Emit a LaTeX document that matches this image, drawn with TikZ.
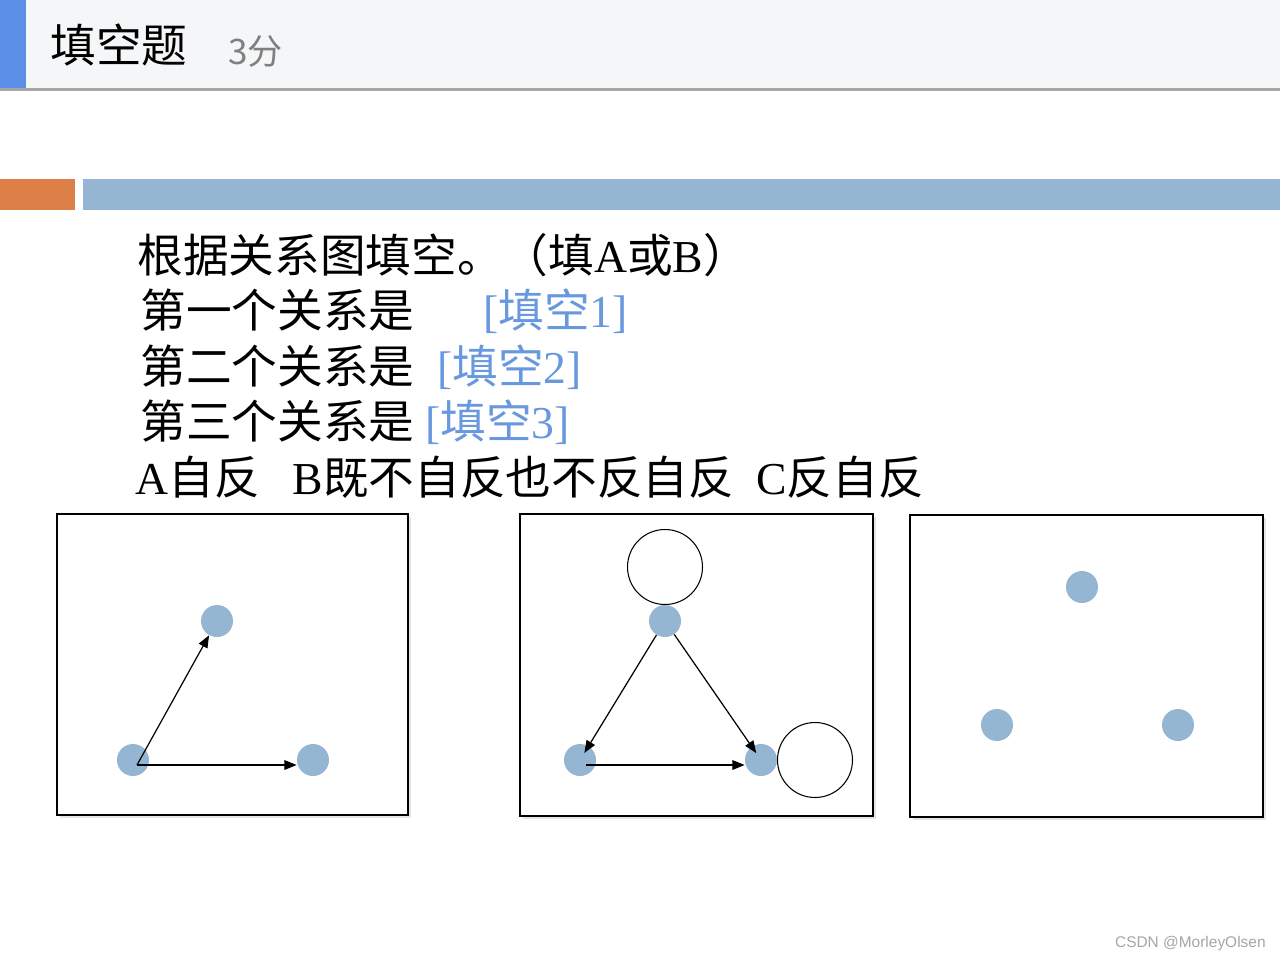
\documentclass[tikz,border=0pt]{standalone}
\usepackage{fontspec}
\setmainfont{Liberation Serif}
\newfontfamily\cjk{Noto Sans CJK SC}
\newfontfamily\uisans{Liberation Sans}
\usepackage{xcolor}
\usetikzlibrary{arrows.meta,positioning}

\definecolor{headbg}{RGB}{245,246,248}
\definecolor{headblue}{RGB}{91,143,232}
\definecolor{barorange}{RGB}{221,128,71}
\definecolor{barblue}{RGB}{148,182,210}
\definecolor{fillblue}{RGB}{104,152,222}

\begin{document}
\begin{tikzpicture}[>={Triangle[length=7pt,width=5.5pt]}, x=0.02cm, y=-0.02cm,
        vertex/.style={circle, fill=barblue, minimum size=0.64cm, inner sep=0pt},
        loopring/.style={circle, draw, line width=0.6pt, minimum size=1.5cm, inner sep=0pt},
        rel/.style={->, line width=0.7pt},
        panel/.style={draw, line width=0.7pt, fill=white},
        textline/.style={anchor=base west, inner sep=0pt, font=\fontsize{26pt}{30pt}\selectfont},
        fillin/.style={textline, text=fillblue}]
        \useasboundingbox (0,0) rectangle (1280,960);
        \fill[white] (0,0) rectangle (1280,960);

        % Header
        \fill[headbg] (0,0) rectangle (1280,88);
        \fill[gray!70] (0,88) rectangle (1280,91);
        \fill[headblue] (0,0) rectangle (26,88);
        \node[anchor=base west, inner sep=0pt, font=\cjk\fontsize{26pt}{30pt}\selectfont] (title) at (50,62) {填空题};
        \node[anchor=base west, inner sep=0pt, text=gray, font=\cjk\fontsize{20pt}{24pt}\selectfont] (score) at (228,64) {3分};

        % Bars
        \fill[barorange] (0,179) rectangle (75,210);
        \fill[barblue] (83,179) rectangle (1280,210);

        % Question text
        \node[textline] (q0) at (137,272) {{\cjk 根据关系图填空。（填}A{\cjk 或}B{\cjk ）}};
        \node[textline] (q1) at (140,327) {\cjk 第一个关系是};
        \node[fillin] (blank1) at (483,327) {[{\cjk 填空}1]};
        \node[textline] (q2) at (140,383) {\cjk 第二个关系是};
        \node[fillin] (blank2) at (437,383) {[{\cjk 填空}2]};
        \node[textline] (q3) at (140,438) {\cjk 第三个关系是};
        \node[fillin] (blank3) at (425,438) {[{\cjk 填空}3]};
        \node[textline] (opts) at (135,494) {A{\cjk 自反}\hspace{0.66cm}B{\cjk 既不自反也不反自反}\hspace{0.44cm}C{\cjk 反自反}};

        % Panel A
        \fill[gray!20] (60,517) rectangle (411,818);
        \draw[panel] (57,514) rectangle (408,815);
        \node[vertex] (aL) at (133,760) {};
        \node[vertex] (aT) at (217,621) {};
        \node[vertex] (aR) at (313,760) {};
        \coordinate (aS) at (137,765);
        \draw[rel] (aS) -- (aT);
        \draw[rel] (aS) -- (aS -| aR.west);

        % Panel B
        \fill[gray!20] (523,517) rectangle (876,819);
        \draw[panel] (520,514) rectangle (873,816);
        \node[loopring] (bTloop) at (665,567) {};
        \node[loopring] (bRloop) at (815,760) {};
        \node[vertex] (bT) at (665,621) {};
        \node[vertex] (bL) at (580,760) {};
        \node[vertex] (bR) at (761,760) {};
        \coordinate (bS) at (586,765);
        \draw[rel, shorten >=-0.16cm] (bT) -- (bL);
        \draw[rel, shorten >=-0.16cm] (bT) -- (bR);
        \draw[rel] (bS) -- (bS -| bR.west);

        % Panel C
        \fill[gray!20] (913,518) rectangle (1266,820);
        \draw[panel] (910,515) rectangle (1263,817);
        \node[vertex] (cT) at (1082,587) {};
        \node[vertex] (cL) at (997,725) {};
        \node[vertex] (cR) at (1178,725) {};

        \node[anchor=base east, inner sep=0pt, text=gray!70, font=\uisans\fontsize{8.8pt}{10pt}\selectfont] (mark) at (1266,947) {CSDN @MorleyOlsen};
    \end{tikzpicture}
\end{document}
